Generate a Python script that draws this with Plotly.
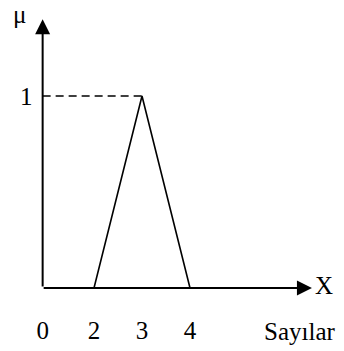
import plotly.graph_objects as go

# Triangular fuzzy number (2, 3, 4)
tri_x = [2, 3, 4]
tri_mu = [0, 1, 0]

# Axis labels
x_tick_vals = [0.93, 2, 3, 4]
x_tick_text = ["0", "2", "3", "4"]
y_tick_vals = [1]
y_tick_text = ["1"]

ORIGIN_X = 0.93
X_TIP = 6.54
Y_TIP = 1.40
FONT = "Liberation Serif, Times New Roman, serif"
FSIZE = 25

fig = go.Figure()

# dashed guide from the membership axis to the peak
fig.add_trace(go.Scatter(
    x=[ORIGIN_X, tri_x[1]], y=[tri_mu[1], tri_mu[1]],
    mode="lines", line=dict(color="black", width=1.5, dash="8px,5px"),
    hoverinfo="skip", showlegend=False,
))

# triangle
fig.add_trace(go.Scatter(
    x=tri_x, y=tri_mu, mode="lines",
    line=dict(color="black", width=1.6),
    hoverinfo="skip", showlegend=False,
))

arrow = dict(showarrow=True, arrowhead=2, arrowsize=1.5, arrowwidth=2,
             arrowcolor="black", axref="x", ayref="y", text="")
fig.add_annotation(x=ORIGIN_X, y=Y_TIP, ax=ORIGIN_X, ay=0, **arrow)
fig.add_annotation(x=X_TIP, y=0, ax=ORIGIN_X - 0.01, ay=0, **arrow)

txt = dict(showarrow=False, borderpad=0,
           font=dict(family=FONT, size=FSIZE, color="black"))
fig.add_annotation(x=X_TIP + 0.04, y=0, yshift=3, text="X",
                   xanchor="left", yanchor="middle", **txt)
fig.add_annotation(x=0.44, y=1.5, text="μ",
                   xanchor="center", yanchor="top", **txt)
fig.add_annotation(x=6.29, xref="x", y=-0.151, yref="paper", text="Sayılar",
                   xanchor="center", yanchor="middle", **txt)

fig.update_layout(
    width=344, height=351,
    margin=dict(l=0, r=0, t=0, b=63),
    paper_bgcolor="white", plot_bgcolor="white",
    xaxis=dict(range=[0.0417, 7.2083], showgrid=False, zeroline=False,
               showline=False, ticks="", tickvals=x_tick_vals,
               ticktext=x_tick_text, ticklabelstandoff=25,
               tickfont=dict(family=FONT, size=FSIZE, color="black")),
    yaxis=dict(range=[0, 1.5], showgrid=False, zeroline=False,
               showline=False, ticks="", tickvals=y_tick_vals,
               ticktext=y_tick_text, anchor="free", position=0.1235,
               ticklabelstandoff=10,
               tickfont=dict(family=FONT, size=FSIZE, color="black")),
)

fig.write_html("out.html")
